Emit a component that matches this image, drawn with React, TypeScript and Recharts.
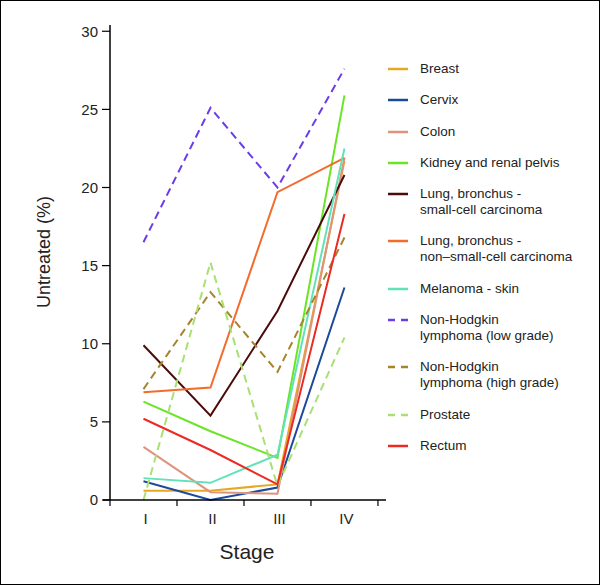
import { LineChart, Line, XAxis, YAxis, Legend } from 'recharts';

const stages = ['I', 'II', 'III', 'IV'];
const yTicks = [0, 5, 10, 15, 20, 25, 30];

// values per stage I..IV (% untreated)
const breast = [0.6, 0.6, 1.0, 21.7];
const cervix = [1.2, 0, 0.8, 13.6];
const colon = [3.4, 0.5, 0.4, 21.9];
const kidney = [6.3, 4.4, 2.7, 25.9];
const lungSmall = [9.9, 5.4, 12.1, 20.8];
const lungNonSmall = [6.9, 7.2, 19.7, 21.9];
const melanoma = [1.4, 1.1, 2.9, 22.5];
const nhlLow = [16.5, 25.1, 20.0, 27.6];
const nhlHigh = [7.1, 13.3, 8.2, 16.8];
const prostate = [0, 15.2, 0.9, 10.4];
const rectum = [5.2, 3.2, 1.0, 18.3];

const SERIES = [
  { key: 'breast', name: 'Breast', values: breast, color: '#E6A823', dashed: false },
  { key: 'cervix', name: 'Cervix', values: cervix, color: '#1B4A9B', dashed: false },
  { key: 'colon', name: 'Colon', values: colon, color: '#DF937C', dashed: false },
  { key: 'kidney', name: 'Kidney and renal pelvis', values: kidney, color: '#69E524', dashed: false },
  { key: 'lungSmall', name: 'Lung, bronchus -\nsmall-cell carcinoma', values: lungSmall, color: '#4B0B0B', dashed: false },
  { key: 'lungNonSmall', name: 'Lung, bronchus -\nnon\u2013small-cell carcinoma', values: lungNonSmall, color: '#F26C2C', dashed: false },
  { key: 'melanoma', name: 'Melanoma - skin', values: melanoma, color: '#62E2B8', dashed: false },
  { key: 'nhlLow', name: 'Non-Hodgkin\nlymphoma (low grade)', values: nhlLow, color: '#6B3DE8', dashed: true },
  { key: 'nhlHigh', name: 'Non-Hodgkin\nlymphoma (high grade)', values: nhlHigh, color: '#A6842C', dashed: true },
  { key: 'prostate', name: 'Prostate', values: prostate, color: '#A9E073', dashed: true },
  { key: 'rectum', name: 'Rectum', values: rectum, color: '#EC2A24', dashed: false },
];

const FONT = '"Liberation Sans", Arial, sans-serif';

const data = stages.map((stage, i) => {
  const row: Record<string, number | string> = { x: i + 0.5, stage };
  SERIES.forEach((s) => {
    row[s.key] = s.values[i];
  });
  return row;
});

function StageTick({ x, y, payload }: any) {
  const v = payload.value as number;
  if (Number.isInteger(v)) {
    return (
      <g>
        <line x1={x} x2={x} y1={y} y2={y + 6} stroke="#000" strokeWidth={1.2} />
        {v === 0 && <line x1={x - 7} x2={x} y1={y} y2={y} stroke="#000" strokeWidth={1.5} />}
      </g>
    );
  }
  return (
    <text x={x + 2} y={y + 24} textAnchor="middle" fontSize={15} fill="#222" fontFamily={FONT}>
      {stages[Math.floor(v)]}
    </text>
  );
}

function LegendBox() {
  return (
    <div style={{ fontFamily: FONT, fontSize: 13.5, color: '#222' }}>
      {SERIES.map((s) => (
        <div key={s.key} style={{ display: 'flex', alignItems: 'flex-start', marginBottom: 15.3 }}>
          <svg width={32} height={16} style={{ flex: 'none' }}>
            <line
              x1={0}
              x2={20}
              y1={8}
              y2={8}
              stroke={s.color}
              strokeWidth={2.5}
              strokeDasharray={s.dashed ? '7 6' : undefined}
            />
          </svg>
          <div style={{ whiteSpace: 'pre-line', lineHeight: '16px' }}>{s.name}</div>
        </div>
      ))}
    </div>
  );
}

export default function App() {
  return (
    <div style={{ position: 'absolute', left: 0, top: 0, width: 600, height: 585, background: '#fff' }}>
      <LineChart
        width={600}
        height={585}
        data={data}
        margin={{ top: 25, right: 214, left: 0, bottom: 25 }}
      >
        <XAxis
          dataKey="x"
          type="number"
          domain={[0, 4.12]}
          ticks={[0, 0.5, 1, 1.5, 2, 2.5, 3, 3.5, 4]}
          interval={0}
          tickLine={false}
          tickSize={0}
          tickMargin={0}
          tick={<StageTick />}
          axisLine={{ stroke: '#000', strokeWidth: 1.5 }}
          height={60}
          label={{
            content: () => (
              <text x={247} y={559} textAnchor="middle" fontSize={21} fill="#222" fontFamily={FONT}>
                Stage
              </text>
            ),
          }}
        />
        <YAxis
          type="number"
          domain={[0, 30.4]}
          ticks={yTicks}
          interval={0}
          width={110}
          tickSize={8}
          tickMargin={4}
          tickLine={{ stroke: '#000', strokeWidth: 1.2 }}
          axisLine={{ stroke: '#000', strokeWidth: 1.5 }}
          tick={{ fill: '#222', fontSize: 15, fontFamily: FONT }}
          label={{
            content: () => (
              <text
                x={0}
                y={0}
                transform="translate(50 252) rotate(-90)"
                textAnchor="middle"
                fontSize={18}
                fill="#222"
                fontFamily={FONT}
              >
                Untreated (%)
              </text>
            ),
          }}
        />
        <Legend
          layout="vertical"
          align="center"
          verticalAlign="middle"
          wrapperStyle={{ left: 388, top: 61, width: 212 }}
          content={() => <LegendBox />}
        />
        {SERIES.map((s) => (
          <Line
            key={s.key}
            dataKey={s.key}
            name={s.name}
            stroke={s.color}
            strokeWidth={2}
            strokeDasharray={s.dashed ? '8 5' : undefined}
            dot={false}
            activeDot={false}
            isAnimationActive={false}
          />
        ))}
      </LineChart>
      <div
        style={{
          position: 'absolute',
          left: 0,
          top: 0,
          width: 600,
          height: 585,
          border: '1px solid #000',
          boxSizing: 'border-box',
          pointerEvents: 'none',
        }}
      />
    </div>
  );
}
